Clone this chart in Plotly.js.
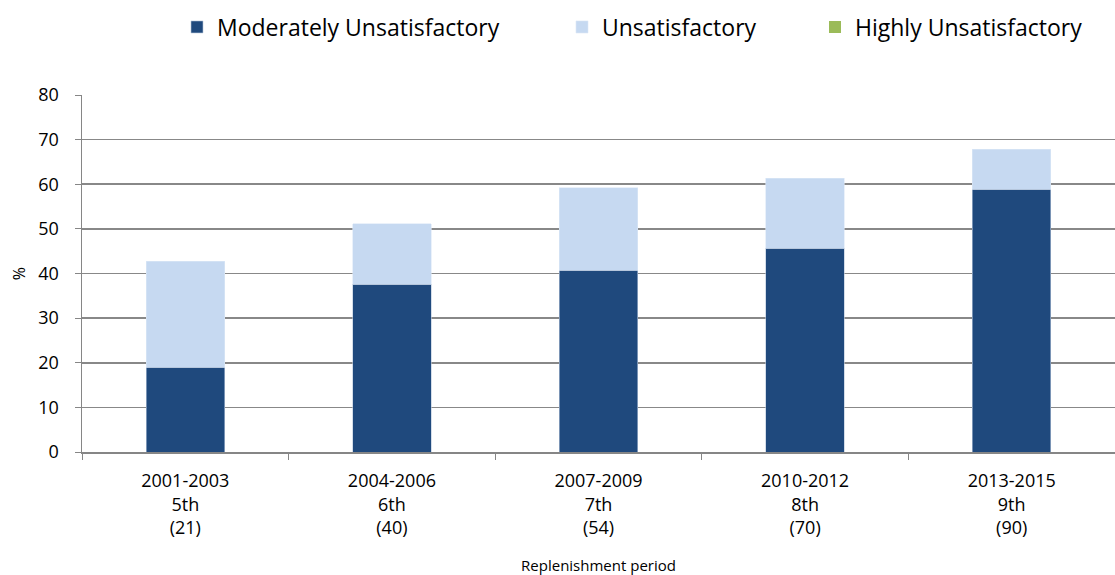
<!DOCTYPE html>
<html>
<head>
<meta charset="utf-8">
<script src="https://cdn.plot.ly/plotly-3.0.1.min.js"></script>
<style>html,body{margin:0;padding:0;background:#fff;}#chart{width:1115px;height:575px;}</style>
</head>
<body>
<div id="chart"></div>
<script>
var periods = ["2001-2003", "2004-2006", "2007-2009", "2010-2012", "2013-2015"];
var replenishments = ["5th", "6th", "7th", "8th", "9th"];
var counts = ["(21)", "(40)", "(54)", "(70)", "(90)"];
var moderately = [19.0, 37.6, 40.7, 45.7, 58.9];
var unsatisfactory = [23.8, 13.6, 18.5, 15.7, 8.9];
var highly = [0, 0, 0, 0, 0];
var yTicks = [0, 10, 20, 30, 40, 50, 60, 70, 80];

var labels = periods.map(function (p, i) { return p + "<br>" + replenishments[i] + "<br>" + counts[i]; });
var FONT = "Open Sans, sans-serif";

var traces = [
  {type: "bar", name: "Moderately Unsatisfactory", x: labels, y: moderately,
   marker: {color: "#1F497D", line: {color: "#B8C7DA", width: 0.6}}, legend: "legend"},
  {type: "bar", name: "Unsatisfactory", x: labels, y: unsatisfactory,
   marker: {color: "#C6D9F1", line: {color: "#DCE8F6", width: 0.6}}, legend: "legend2"},
  {type: "bar", name: "Highly Unsatisfactory", x: labels, y: highly,
   marker: {color: "#9BBB59"}, legend: "legend3"}
];

function leg(x) {
  return {orientation: "h", xref: "container", yref: "container", x: x, y: 1 - 27 / 575,
          xanchor: "left", yanchor: "middle", font: {family: FONT, size: 23, color: "#000"},
          bgcolor: "rgba(0,0,0,0)", borderwidth: 0};
}

var layout = {
  width: 1115, height: 575,
  margin: {l: 82, r: 0, t: 95, b: 123},
  paper_bgcolor: "#fff", plot_bgcolor: "#fff",
  barmode: "stack", bargap: 0.62,
  showlegend: true,
  legend: leg(177 / 1115),
  legend2: leg(562 / 1115),
  legend3: leg(815 / 1115),
  font: {family: FONT, color: "#000"},
  xaxis: {
    type: "category", tickson: "boundaries", ticks: "outside", ticklen: 6, tickcolor: "#868686",
    showline: true, linecolor: "#868686", linewidth: 1.5, showgrid: false,
    ticklabelstandoff: 12,
    tickfont: {family: FONT, size: 18, color: "#000"},
    title: {text: "Replenishment period", font: {family: FONT, size: 15, color: "#000"}, standoff: 22}
  },
  yaxis: {
    range: [0, 80], tickvals: yTicks, ticks: "outside", ticklen: 6, tickcolor: "#868686",
    showline: true, linecolor: "#868686", linewidth: 1.5,
    showgrid: true, gridcolor: "#888888", gridwidth: 1.6, zeroline: false,
    ticklabelstandoff: 12,
    tickfont: {family: FONT, size: 18, color: "#000"},
    title: {text: "%", font: {family: FONT, size: 16, color: "#000"}, standoff: 8}
  }
};

Plotly.newPlot("chart", traces, layout, {displayModeBar: false, staticPlot: true});
</script>
</body>
</html>
